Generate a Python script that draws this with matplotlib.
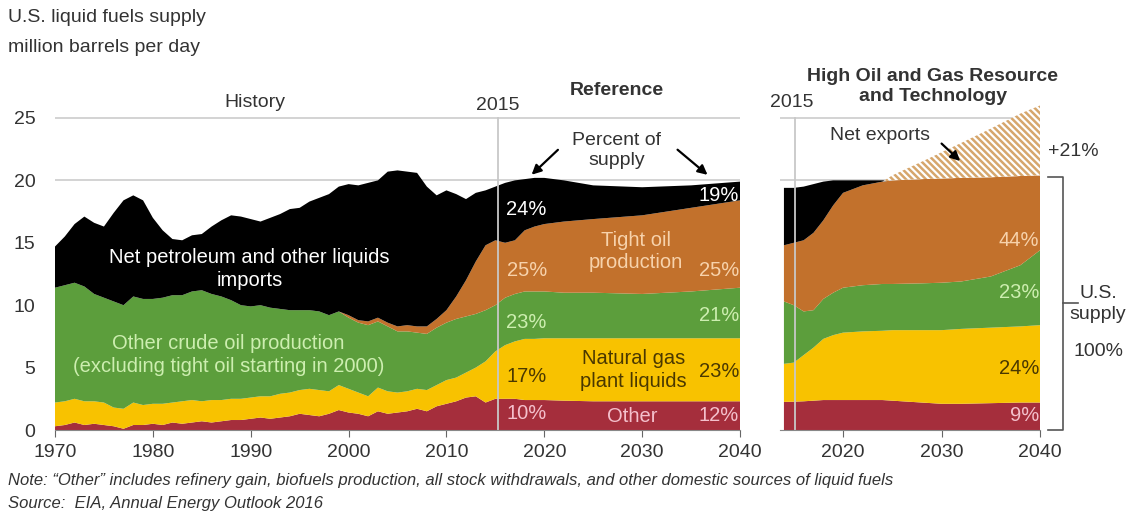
import numpy as np
import matplotlib
matplotlib.use('Agg')
import matplotlib.pyplot as plt

# --- data (million barrels per day) ---
# Reference case: history 1970-2015 + projection to 2040
ref_years = list(range(1970, 2016)) + [2016, 2017, 2018, 2019, 2020, 2022, 2025, 2030, 2035, 2040]
ref_other = [0.3, 0.4, 0.6, 0.4, 0.5, 0.4, 0.3, 0.1, 0.4, 0.4,
             0.5, 0.4, 0.6, 0.5, 0.6, 0.7, 0.6, 0.7, 0.8, 0.8,
             0.9, 1.0, 0.9, 1.0, 1.1, 1.3, 1.2, 1.1, 1.3, 1.6,
             1.4, 1.3, 1.1, 1.5, 1.3, 1.4, 1.5, 1.7, 1.5, 1.9,
             2.1, 2.3, 2.6, 2.7, 2.2, 2.5,
             2.5, 2.5, 2.4, 2.4, 2.4, 2.35, 2.3, 2.3, 2.3, 2.3]
ref_ngpl = [1.9, 1.9, 1.9, 1.9, 1.8, 1.8, 1.5, 1.6, 1.8, 1.6,
            1.6, 1.7, 1.6, 1.8, 1.8, 1.6, 1.8, 1.7, 1.7, 1.7,
            1.7, 1.7, 1.8, 1.9, 1.9, 1.9, 2.1, 2.1, 1.8, 2.0,
            1.9, 1.7, 1.6, 1.9, 1.8, 1.6, 1.6, 1.6, 1.7, 1.7,
            1.9, 1.9, 2.0, 2.3, 3.3, 3.8,
            4.3, 4.6, 4.9, 4.9, 4.95, 5.0, 5.05, 5.05, 5.05, 5.05]
ref_crude = [9.2, 9.3, 9.3, 9.2, 8.6, 8.4, 8.5, 8.3, 8.5, 8.5,
             8.4, 8.5, 8.6, 8.5, 8.7, 8.9, 8.5, 8.3, 7.9, 7.5,
             7.3, 7.3, 7.1, 6.8, 6.6, 6.4, 6.3, 6.3, 6.1, 5.9,
             5.7, 5.6, 5.7, 5.3, 5.2, 4.9, 4.8, 4.5, 4.5, 4.6,
             4.6, 4.7, 4.5, 4.3, 4.1, 3.7,
             3.8, 3.8, 3.8, 3.8, 3.75, 3.65, 3.65, 3.55, 3.75, 4.05]
ref_tight = [0] * 30 + [0.2, 0.2, 0.3, 0.3, 0.3, 0.4, 0.5, 0.5, 0.6, 0.7,
                        1.0, 1.8, 2.9, 4.2, 5.2, 5.2,
                        4.4, 4.3, 4.9, 5.2, 5.4, 5.7, 5.9, 6.3, 6.7, 7.0]
ref_imports = [3.3, 3.9, 4.7, 5.6, 5.7, 5.7, 7.1, 8.4, 8.1, 7.9,
               6.5, 5.4, 4.5, 4.4, 4.5, 4.5, 5.4, 6.1, 6.8, 7.1,
               7.0, 6.7, 7.2, 7.6, 8.1, 8.2, 8.7, 9.1, 9.7, 10.0,
               10.5, 10.8, 11.1, 11.0, 12.1, 12.5, 12.3, 12.3, 11.2, 9.9,
               9.6, 8.2, 6.5, 5.5, 4.4, 4.3,
               4.8, 4.8, 4.1, 3.9, 3.7, 3.3, 2.7, 2.25, 1.8, 1.5]

# High Oil and Gas Resource and Technology case
hog_years = [2014, 2015, 2016, 2017, 2018, 2019, 2020, 2022, 2024, 2025, 2028, 2030, 2032, 2035, 2038, 2040]
hog_other = [2.25, 2.27, 2.3, 2.35, 2.4, 2.4, 2.4, 2.4, 2.4, 2.35, 2.2, 2.1, 2.1, 2.15, 2.2, 2.2]
hog_ngpl = [3.05, 3.13, 3.7, 4.25, 4.9, 5.2, 5.4, 5.5, 5.55, 5.65, 5.8, 5.9, 6.0, 6.05, 6.1, 6.2]
hog_crude = [5.0, 4.6, 3.5, 3.0, 3.2, 3.4, 3.6, 3.7, 3.75, 3.7, 3.75, 3.8, 3.8, 4.1, 4.9, 6.0]
hog_tight = [4.5, 5.0, 5.7, 6.2, 6.3, 7.0, 7.6, 8.0, 8.2, 8.3, 8.35, 8.35, 8.3, 7.95, 7.15, 6.0]
hog_imports = [4.6, 4.4, 4.3, 3.9, 3.1, 2.0, 1.0, 0.4, 0.1, 0, 0, 0, 0, 0, 0, 0]
hog_exports = [0, 0, 0, 0, 0, 0, 0, 0, 0, 0.4, 1.4, 2.1, 2.8, 3.9, 5.0, 5.6]

colors = ['#a52e3c', '#f8c200', '#5c9e3c', '#c2712c', '#000000']
txt = '#333333'
fs = 14      # headings / ticks
fs_in = 14.5 # labels inside the areas

plt.rcParams['font.family'] = ['Liberation Sans', 'DejaVu Sans']
plt.rcParams['hatch.linewidth'] = 1.8

W, H = 1133, 511
fig = plt.figure(figsize=(W / 100, H / 100), dpi=100)
ax1 = fig.add_axes([55 / W, 81 / H, 685 / W, 337 / H])
ax2 = fig.add_axes([780 / W, 81 / H, 260 / W, 337 / H])

ax1.stackplot(ref_years, ref_other, ref_ngpl, ref_crude, ref_tight, ref_imports,
              colors=colors, linewidth=0, zorder=2)
ax2.stackplot(hog_years, hog_other, hog_ngpl, hog_crude, hog_tight, hog_imports,
              colors=colors, linewidth=0, zorder=2)
supply = np.sum([hog_other, hog_ngpl, hog_crude, hog_tight], axis=0)
ax2.fill_between(hog_years, supply, supply + np.array(hog_exports), facecolor='white',
                 edgecolor='#d6a66c', hatch='\\' * 5, linewidth=0, zorder=2)

for ax, xl, xline in [(ax1, (1970, 2040), 2015.25), (ax2, (2013.6, 2040), 2015.1)]:
    ax.set_xlim(*xl)
    ax.set_ylim(0, 27)
    for s in ['top', 'right', 'left']:
        ax.spines[s].set_visible(False)
    ax.spines['bottom'].set_color('#888888')
    ax.spines['bottom'].set_zorder(4)
    ax.axhline(20, color='#cccccc', lw=1.2, zorder=0)
    ax.axhline(25, color='#cccccc', lw=1.2, zorder=0)
    ax.plot([xline, xline], [0, 25], color='#c8c8c8', lw=1.3, zorder=3)
    ax.tick_params(axis='x', direction='out', length=5, color='#666666',
                   labelsize=fs, labelcolor=txt, pad=5)

ax1.set_xticks(range(1970, 2041, 10))
ax1.set_yticks([0, 5, 10, 15, 20, 25])
ax1.tick_params(axis='y', length=0, labelsize=fs, labelcolor=txt, pad=14)
ax2.set_xticks([2020, 2030, 2040])
ax2.set_yticks([])

# header texts
fig.text(8 / W, 1 - 18 / H, 'U.S. liquid fuels supply', fontsize=fs, color=txt, va='center')
fig.text(8 / W, 1 - 48 / H, 'million barrels per day', fontsize=fs, color=txt, va='center')
fig.text(8 / W, 1 - 480 / H, 'Note: \u201cOther\u201d includes refinery gain, biofuels production, all stock '
         'withdrawals, and other domestic sources of liquid fuels',
         fontsize=12, style='italic', color=txt, va='center')
fig.text(8 / W, 1 - 503 / H, 'Source:  EIA, Annual Energy Outlook 2016',
         fontsize=12, style='italic', color=txt, va='center')

# left panel labels
ax1.text(1990.4, 26.2, 'History', ha='center', va='center', fontsize=fs, color=txt)
ax1.text(2015.2, 26.0, '2015', ha='center', va='center', fontsize=fs, color=txt)
ax1.text(2027.4, 27.2, 'Reference', ha='center', va='center', fontsize=fs,
         fontweight='bold', color=txt)
ax1.text(2027.4, 22.4, 'Percent of\nsupply', ha='center', va='center', fontsize=fs,
         color=txt, linespacing=1.25, zorder=5)
for start, end in [((2021.6, 22.6), (2018.5, 20.3)), ((2033.4, 22.6), (2036.9, 20.3))]:
    ax1.annotate('', xy=end, xytext=start, zorder=5,
                 arrowprops=dict(arrowstyle='-|>', color='black', lw=1.6, mutation_scale=14))
ax1.text(1989.9, 12.9, 'Net petroleum and other liquids\nimports', ha='center', va='center',
         fontsize=fs_in, color='white', linespacing=1.25, zorder=5)
ax1.text(1987.7, 6.0, 'Other crude oil production\n(excluding tight oil starting in 2000)',
         ha='center', va='center', fontsize=fs_in, color='#cdeeb0', linespacing=1.25, zorder=5)
ax1.text(2029.4, 14.3, 'Tight oil\nproduction', ha='center', va='center', fontsize=fs_in,
         color='#f7d2ab', linespacing=1.25, zorder=5)
ax1.text(2029.1, 4.8, 'Natural gas\nplant liquids', ha='center', va='center', fontsize=fs_in,
         color='#4a3800', linespacing=1.25, zorder=5)
ax1.text(2029.0, 1.05, 'Other', ha='center', va='center', fontsize=fs_in, color='#f4c0cc', zorder=5)

pct_cols = ['white', '#f7d2ab', '#cdeeb0', '#4a3800', '#f4c0cc']
left_pcts = ['24%', '25%', '23%', '17%', '10%']
left_y = [17.7, 12.8, 8.65, 4.25, 1.3]
right_pcts = ['19%', '25%', '21%', '23%', '12%']
right_y = [18.75, 12.8, 9.2, 4.65, 1.2]
for p, y, c in zip(left_pcts, left_y, pct_cols):
    ax1.text(2018.2, y, p, ha='center', va='center', fontsize=fs_in, color=c, zorder=5)
for p, y, c in zip(right_pcts, right_y, pct_cols):
    ax1.text(2039.9, y, p, ha='right', va='center', fontsize=fs_in, color=c, zorder=5)

# right panel labels
ax2.text(2029.1, 27.5, 'High Oil and Gas Resource\nand Technology', ha='center', va='center',
         fontsize=fs, fontweight='bold', color=txt, linespacing=1.25)
ax2.text(2014.8, 26.2, '2015', ha='center', va='center', fontsize=fs, color=txt)
ax2.text(2023.8, 23.6, 'Net exports', ha='center', va='center', fontsize=fs, color=txt, zorder=5)
ax2.annotate('', xy=(2032.1, 21.4), xytext=(2029.8, 23.1), zorder=5,
             arrowprops=dict(arrowstyle='-|>', color='black', lw=1.6, mutation_scale=14))
for p, y, c in zip(['44%', '23%', '24%', '9%'], [15.2, 11.05, 4.9, 1.2],
                   ['#f7d2ab', '#cdeeb0', '#4a3800', '#f4c0cc']):
    ax2.text(2039.9, y, p, ha='right', va='center', fontsize=fs_in, color=c, zorder=5)
ax2.text(2043.4, 22.3, '+21%', ha='center', va='center', fontsize=fs, color=txt)
ax2.plot([2040.8, 2042.3, 2042.3, 2040.8], [20.3, 20.3, 0, 0], color='#555555',
         lw=1.2, clip_on=False)
ax2.plot([2042.3, 2043.9], [10.2, 10.2], color='#555555', lw=1.2, clip_on=False)
ax2.text(2045.9, 10.1, 'U.S.\nsupply', ha='center', va='center', fontsize=fs, color=txt,
         linespacing=1.25)
ax2.text(2045.9, 6.25, '100%', ha='center', va='center', fontsize=fs, color=txt)

fig.savefig('out.png', dpi=100)
